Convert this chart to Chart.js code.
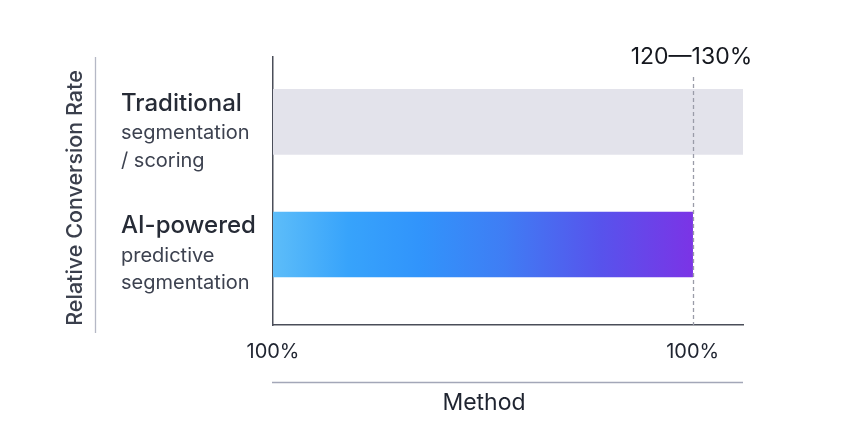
<!DOCTYPE html>
<html>
<head>
<meta charset="utf-8">
<script src="https://cdn.jsdelivr.net/npm/chart.js@4"></script>
<style>
html,body{margin:0;padding:0;background:#fff;}
#wrap{width:855px;height:447px;position:relative;}
</style>
</head>
<body>
<div id="wrap"><canvas id="c" width="855" height="447"></canvas></div>
<script>
const categories = ['Traditional segmentation / scoring', 'AI-powered predictive segmentation'];
const categoryTitles = ['Traditional', 'AI-powered'];
const categorySublines = [['segmentation', '/ scoring'], ['predictive', 'segmentation']];
const values = [112, 100];
const tickValues = [0, 100];
const tickLabels = ['100%', '100%'];
const referenceValue = 100;
const referenceLabel = '120\u2014130%';
const yTitle = 'Relative Conversion Rate';
const xTitle = 'Method';

const FONT = 'Inter, "DejaVu Sans", sans-serif';

function barColor(ctx) {
  const chart = ctx.chart;
  const area = chart.chartArea;
  if (!area) return '#3a8ef6';
  if (ctx.dataIndex === 0) return '#e3e3eb';
  const xs = chart.scales.x;
  const x0 = xs.getPixelForValue(0);
  const x1 = xs.getPixelForValue(values[ctx.dataIndex]);
  const g = chart.ctx.createLinearGradient(x0, 0, x1, 0);
  g.addColorStop(0, '#5dbdf9');
  g.addColorStop(0.18, '#37a3fb');
  g.addColorStop(0.35, '#3194fb');
  g.addColorStop(0.55, '#3f7df4');
  g.addColorStop(0.78, '#5753ec');
  g.addColorStop(1, '#7b34e6');
  return g;
}

const decor = {
  id: 'decor',
  afterDraw(chart) {
    const c = chart.ctx;
    const a = chart.chartArea;
    const xs = chart.scales.x;
    const ys = chart.scales.y;
    c.save();
    // reference dashed line
    const rx = Math.round(xs.getPixelForValue(referenceValue)) + 0.5;
    c.strokeStyle = '#9a9ca8';
    c.lineWidth = 1.3;
    c.setLineDash([4, 3]);
    c.beginPath();
    c.moveTo(rx, a.top + 20);
    c.lineTo(rx, a.bottom);
    c.stroke();
    c.setLineDash([]);
    // reference label
    c.fillStyle = '#15181f';
    c.font = '400 23px ' + FONT;
    c.textAlign = 'center';
    c.textBaseline = 'alphabetic';
    c.fillText(referenceLabel, rx - 2, a.top + 7);
    // category labels
    c.textAlign = 'left';
    categoryTitles.forEach((t, i) => {
      const yc = ys.getPixelForValue(i) + 17.5;
      c.fillStyle = '#262b36';
      c.font = '500 24px ' + FONT;
      c.fillText(t, 121, yc - 28.5);
      c.fillStyle = '#3d4250';
      c.font = '400 20px ' + FONT;
      categorySublines[i].forEach((s, j) => c.fillText(s, 121, yc + j * 27.5));
    });
    // y title and its line
    c.save();
    c.translate(76, 198);
    c.rotate(-Math.PI / 2);
    c.fillStyle = '#3a3f4c';
    c.font = '500 21.5px ' + FONT;
    c.textAlign = 'center';
    c.textBaseline = 'middle';
    c.fillText(yTitle, 0, 0);
    c.restore();
    c.strokeStyle = '#b5b8c5';
    c.lineWidth = 1.3;
    c.beginPath();
    c.moveTo(95.5, a.top);
    c.lineTo(95.5, a.bottom + 8);
    c.stroke();
    // x title and its line
    c.strokeStyle = '#a3a7b8';
    c.beginPath();
    c.moveTo(a.left - 1, a.bottom + 57.5);
    c.lineTo(a.right, a.bottom + 57.5);
    c.stroke();
    c.fillStyle = '#1f2430';
    c.font = '400 23px ' + FONT;
    c.textAlign = 'center';
    c.fillText(xTitle, (a.left + a.right) / 2 - 24, a.bottom + 85);
    c.restore();
  }
};

new Chart(document.getElementById('c'), {
  type: 'bar',
  data: {
    labels: categories,
    datasets: [{
      data: values.map((v, i) => ({ x: v, y: i })),
      backgroundColor: barColor,
      borderWidth: 0,
      barThickness: 65
    }]
  },
  options: {
    indexAxis: 'y',
    responsive: false,
    animation: false,
    devicePixelRatio: 1,
    layout: { padding: { left: 273, right: 112, top: 57, bottom: 0 } },
    plugins: { legend: { display: false }, tooltip: { enabled: false } },
    scales: {
      x: {
        type: 'linear',
        min: 0,
        max: 112,
        afterBuildTicks(s) { s.ticks = tickValues.map(v => ({ value: v })); },
        afterFit(s) { s.height = 122; },
        ticks: {
          callback: (v, i) => tickLabels[i],
          font: { family: FONT, size: 20 },
          color: '#1f2430',
          padding: 15,
          maxRotation: 0
        },
        grid: { display: false, drawTicks: false },
        border: { display: true, color: '#4a4e59', width: 1.5 }
      },
      y: {
        type: 'linear',
        reverse: true,
        offset: false,
        min: -0.53,
        max: 1.657,
        afterFit(s) { s.width = 0; },
        ticks: { display: false },
        grid: { display: false, drawTicks: false, offset: false },
        border: { display: true, color: '#4a4e59', width: 1.5 }
      }
    }
  },
  plugins: [decor]
});
</script>
</body>
</html>
